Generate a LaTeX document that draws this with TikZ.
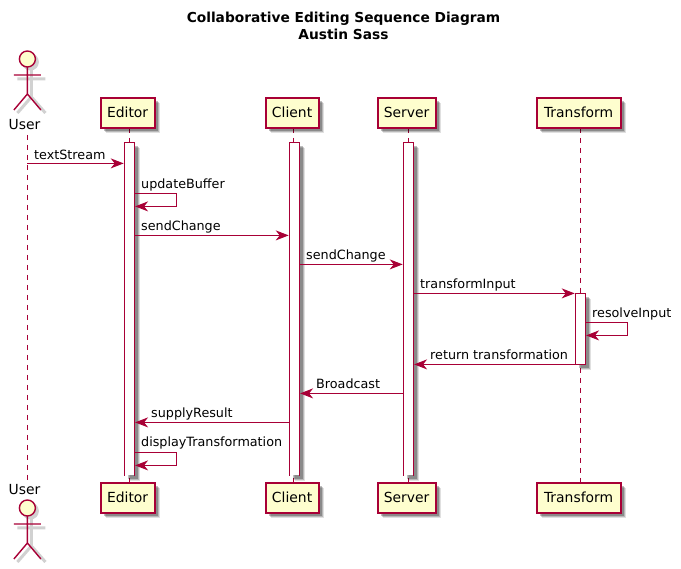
\documentclass[tikz,border=0pt]{standalone}
\usepackage{fontspec}
\setmainfont{DejaVu Sans}
\usetikzlibrary{arrows.meta,shadows}
\definecolor{puml}{HTML}{A80036}
\definecolor{pfill}{HTML}{FEFECE}
\tikzset{
  softshadow/.style={
    general shadow={shadow xshift=5.5pt,shadow yshift=-5.5pt,fill=black,opacity=.12},
    general shadow={shadow xshift=4.5pt,shadow yshift=-4.5pt,fill=black,opacity=.18},
    general shadow={shadow xshift=3.5pt,shadow yshift=-3.5pt,fill=black,opacity=.25}},
  part/.style={draw=puml,line width=2pt,fill=pfill,minimum height=30pt,inner sep=0pt,font=\fontsize{13.9}{14}\selectfont,softshadow},
  lifeline/.style={draw=puml,color=puml,line width=1pt,dash pattern=on 5pt off 5pt},
  barbox/.style={fill=white,minimum width=10pt,inner sep=0pt,softshadow},
  barline/.style={draw=puml,line width=1pt},
  msg/.style={draw=puml,line width=1pt,-{Stealth[length=13pt,width=10pt,inset=4pt,fill=puml]},shorten >=.5pt},
  lbl/.style={font=\fontsize{12.75}{13}\selectfont,inner sep=0pt,anchor=base west,text=black},
  actorname/.style={font=\fontsize{13.9}{14}\selectfont,inner sep=0pt,anchor=base},
  limb/.style={draw=puml,line width=1.4pt},
  limbshadow/.style={draw=black!18,line width=3pt},
  titletext/.style={font=\fontsize{13.75}{16.5}\selectfont\bfseries,align=center,inner sep=0pt}
}
\newcommand{\actorfig}[2]{%
  \begin{scope}[shift={(#1,#2)}]
    \fill[black!18] (3,3) circle (8.5);
    \draw[limbshadow] (4,8) -- (4,38) (4,38) -- (-10,54) (4,38) -- (18,54) (-10,20) -- (18,20);
    \draw[limb,fill=pfill] (0,0) circle (8);
    \draw[limb] (0,8) -- (0,35) (-13.5,16) -- (13.5,16) (0,35) -- (-13.5,51) (0,35) -- (13.5,51);
  \end{scope}}
\begin{document}
\begin{tikzpicture}[x=1pt,y=-1pt]
\useasboundingbox (0,0) rectangle (681,569);
\node[titletext] (title) at (343.5,26) {Collaborative Editing Sequence Diagram\\Austin Sass};

% lifelines
\coordinate (ul1) at (27.4,135);
\coordinate (ul2) at (27.4,482);
\coordinate (el1) at (129.4,128);
\coordinate (el2) at (129.4,482);
\coordinate (cl1) at (293.4,128);
\coordinate (cl2) at (293.4,482);
\coordinate (sl1) at (408.4,128);
\coordinate (sl2) at (408.4,482);
\coordinate (tl1) at (580.4,128);
\coordinate (tl2) at (580.4,482);
\draw[lifeline] (ul1) -- (ul2);
\draw[lifeline] (el1) -- (el2);
\draw[lifeline] (cl1) -- (cl2);
\draw[lifeline] (sl1) -- (sl2);
\draw[lifeline] (tl1) -- (tl2);

% heads
\node[actorname] (usertop) at (24.5,130) {User};
\node[part,minimum width=54pt] (editortop) at (127.6,112.6) {Editor};
\node[part,minimum width=53pt] (clienttop) at (292.1,112.6) {Client};
\node[part,minimum width=58pt] (servertop) at (406.6,112.6) {Server};
\node[part,minimum width=84pt] (transformtop) at (578.6,112.6) {Transform};
\node[actorname] (userbot) at (24.5,495) {User};
\node[part,minimum width=54pt] (editorbot) at (127.6,497.6) {Editor};
\node[part,minimum width=53pt] (clientbot) at (292.1,497.6) {Client};
\node[part,minimum width=58pt] (serverbot) at (406.6,497.6) {Server};
\node[part,minimum width=84pt] (transformbot) at (578.6,497.6) {Transform};
\actorfig{27.4}{59}
\actorfig{27.4}{508}

% activation bars
\node[barbox,minimum height=333pt] (ebar) at (129.4,308.9) {};
\node[barbox,minimum height=333pt] (cbar) at (294.4,308.9) {};
\node[barbox,minimum height=333pt] (sbar) at (408.4,308.9) {};
\node[barbox,minimum height=71pt] (tbar) at (580.4,328.9) {};
\draw[barline] (ebar.south west) -- (ebar.north west) -- (ebar.north east) -- (ebar.south east);
\draw[barline] (cbar.south west) -- (cbar.north west) -- (cbar.north east) -- (cbar.south east);
\draw[barline] (sbar.south west) -- (sbar.north west) -- (sbar.north east) -- (sbar.south east);
\draw[barline] (tbar.south west) rectangle (tbar.north east);

% messages
\coordinate (m1) at (0,163.4);
\draw[msg] (m1 -| ul1) -- (m1 -| ebar.west);
\node[lbl] (t1) at (34,159.5) {textStream};

\coordinate (m2a) at (0,193.4);
\coordinate (m2b) at (0,206.4);
\coordinate (m2x) at (176.4,0);
\draw[msg] (m2a -| ebar.east) -- (m2a -| m2x) -- (m2b -| m2x) -- (m2b -| ebar.east);
\node[lbl] (t2) at (141,189) {updateBuffer};

\coordinate (m3) at (0,235.4);
\draw[msg] (m3 -| ebar.east) -- (m3 -| cbar.west);
\node[lbl] (t3) at (141,230.5) {sendChange};

\coordinate (m4) at (0,264.4);
\draw[msg] (m4 -| cbar.east) -- (m4 -| sbar.west);
\node[lbl] (t4) at (306,259.5) {sendChange};

\coordinate (m5) at (0,293.4);
\draw[msg] (m5 -| sbar.east) -- (m5 -| tbar.west);
\node[lbl] (t5) at (420,288.5) {transformInput};

\coordinate (m6a) at (0,322.4);
\coordinate (m6b) at (0,335.4);
\coordinate (m6x) at (627.4,0);
\draw[msg] (m6a -| tbar.east) -- (m6a -| m6x) -- (m6b -| m6x) -- (m6b -| tbar.east);
\node[lbl] (t6) at (592,318) {resolveInput};

\coordinate (m7) at (0,364.4);
\draw[msg] (m7 -| tbar.west) -- (m7 -| sbar.east);
\node[lbl] (t7) at (430,360) {return transformation};

\coordinate (m8) at (0,393.4);
\draw[msg] (m8 -| sbar.west) -- (m8 -| cbar.east);
\node[lbl] (t8) at (316,389) {Broadcast};

\coordinate (m9) at (0,422.4);
\draw[msg] (m9 -| cbar.west) -- (m9 -| ebar.east);
\node[lbl] (t9) at (151,418) {supplyResult};

\coordinate (m10a) at (0,452.4);
\coordinate (m10b) at (0,465.4);
\coordinate (m10x) at (176.4,0);
\draw[msg] (m10a -| ebar.east) -- (m10a -| m10x) -- (m10b -| m10x) -- (m10b -| ebar.east);
\node[lbl] (t10) at (141,447) {displayTransformation};
\end{tikzpicture}
\end{document}
